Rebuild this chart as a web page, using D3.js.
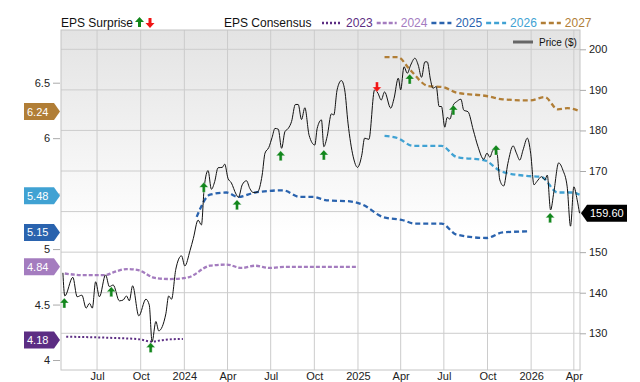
<!DOCTYPE html>
<html>
<head>
<meta charset="utf-8">
<script src="https://cdn.jsdelivr.net/npm/d3@7"></script>
<style>
  body { margin: 0; background: #fff; }
  svg { display: block; font-family: "Liberation Sans", Arial, sans-serif; }
</style>
</head>
<body>
<div id="chart"></div>
<script>
// Price ($)
const priceData = [
  ["2023-04-20",144.9],["2023-04-24",139.2],["2023-05-11",143.8],["2023-05-20",139.0],["2023-05-30",139.4],
  ["2023-06-08",136.2],["2023-06-15",137.4],["2023-06-21",136.2],["2023-06-28",142.7],["2023-07-06",139.0],
  ["2023-07-19",144.4],["2023-07-27",141.5],["2023-08-04",141.9],["2023-08-17",138.0],["2023-08-25",138.2],
  ["2023-09-01",139.2],["2023-09-07",138.0],["2023-09-14",141.7],["2023-09-27",134.3],["2023-10-12",138.4],
  ["2023-10-19",137.0],["2023-10-25",127.9],["2023-11-02",132.9],["2023-11-08",130.6],["2023-11-23",134.8],
  ["2023-11-29",139.2],["2023-12-05",138.4],["2023-12-14",145.8],["2023-12-26",149.1],["2024-01-02",146.6],
  ["2024-01-13",150.4],["2024-01-20",153.4],["2024-01-30",157.9],["2024-02-06",156.7],["2024-02-12",166.1],
  ["2024-02-20",170.1],["2024-02-27",165.5],["2024-03-05",167.4],["2024-03-12",170.8],["2024-03-21",170.9],
  ["2024-03-26",171.7],["2024-04-02",168.2],["2024-04-09",167.1],["2024-04-19",164.3],["2024-04-24",163.5],
  ["2024-05-02",166.6],["2024-05-11",167.6],["2024-05-18",165.7],["2024-05-25",164.7],["2024-06-03",164.8],
  ["2024-06-13",169.0],["2024-06-19",174.4],["2024-06-27",175.8],["2024-07-04",178.3],["2024-07-10",180.5],
  ["2024-07-17",180.3],["2024-07-24",175.6],["2024-07-31",179.7],["2024-08-07",180.5],["2024-08-14",182.2],
  ["2024-08-22",186.4],["2024-08-28",186.4],["2024-09-04",182.7],["2024-09-11",185.6],["2024-09-20",178.8],
  ["2024-10-02",176.4],["2024-10-07",180.5],["2024-10-16",182.6],["2024-10-21",176.0],["2024-10-28",178.5],
  ["2024-11-06",184.1],["2024-11-11",183.8],["2024-11-18",190.0],["2024-11-27",192.3],["2024-12-04",190.0],
  ["2024-12-11",181.8],["2024-12-22",173.5],["2024-12-31",170.9],["2025-01-09",173.9],["2025-01-15",178.1],
  ["2025-01-24",177.8],["2025-02-05",190.0],["2025-02-12",189.2],["2025-02-19",187.5],["2025-02-26",189.5],
  ["2025-03-11",185.5],["2025-03-18",187.9],["2025-03-27",192.9],["2025-04-01",190.0],["2025-04-08",195.7],
  ["2025-04-15",194.1],["2025-04-22",196.1],["2025-05-01",197.8],["2025-05-08",196.1],["2025-05-15",193.1],
  ["2025-05-22",196.9],["2025-05-27",196.9],["2025-06-03",192.4],["2025-06-08",190.4],["2025-06-15",190.8],
  ["2025-06-21",185.9],["2025-06-26",185.9],["2025-07-03",180.8],["2025-07-08",183.2],["2025-07-14",182.8],
  ["2025-07-21",186.3],["2025-07-28",187.1],["2025-08-06",187.7],["2025-08-12",185.0],["2025-08-21",184.6],
  ["2025-09-01",180.1],["2025-09-11",176.0],["2025-09-23",172.9],["2025-09-30",174.4],["2025-10-06",173.4],
  ["2025-10-13",175.2],["2025-10-20",175.2],["2025-10-27",167.8],["2025-11-04",166.3],["2025-11-13",171.9],
  ["2025-11-24",176.2],["2025-12-01",174.4],["2025-12-08",172.7],["2025-12-15",175.2],["2025-12-24",178.1],
  ["2025-12-31",174.4],["2026-01-07",166.6],["2026-01-13",167.4],["2026-01-23",168.6],["2026-01-30",167.8],
  ["2026-02-04",169.0],["2026-02-11",160.4],["2026-02-18",164.9],["2026-02-28",172.0],["2026-03-09",170.2],
  ["2026-03-18",166.1],["2026-03-25",156.4],["2026-04-01",166.1],["2026-04-08",162.9],["2026-04-13",159.6]
];

// EPS consensus per fiscal year
const eps2023 = [["2023-04-27",4.21],["2023-07-29",4.20],["2023-09-30",4.186],["2023-10-24",4.165],
  ["2023-11-10",4.175],["2023-12-01",4.186],["2023-12-29",4.19]];
const eps2024 = [["2023-04-24",4.78],["2023-06-02",4.765],["2023-07-18",4.765],["2023-08-04",4.79],
  ["2023-09-01",4.82],["2023-09-26",4.81],["2023-10-31",4.74],["2023-12-01",4.73],["2024-01-09",4.745],
  ["2024-02-24",4.85],["2024-03-30",4.86],["2024-05-01",4.83],["2024-05-29",4.85],["2024-06-29",4.83],
  ["2024-07-31",4.84],["2024-09-01",4.84],["2025-01-01",4.84]];
const eps2025 = [["2024-01-27",5.29],["2024-02-24",5.49],["2024-03-30",5.51],["2024-04-23",5.47],
  ["2024-05-29",5.51],["2024-07-27",5.53],["2024-09-01",5.47],["2024-09-28",5.47],["2024-10-27",5.44],
  ["2024-12-15",5.43],["2025-01-11",5.40],["2025-02-22",5.29],["2025-04-06",5.26],["2025-05-01",5.23],
  ["2025-06-26",5.23],["2025-07-28",5.13],["2025-09-29",5.10],["2025-11-02",5.15],["2025-12-29",5.16]];
const eps2026 = [["2025-02-26",6.02],["2025-03-26",6.00],["2025-04-27",5.93],["2025-06-26",5.93],
  ["2025-07-28",5.83],["2025-09-25",5.80],["2025-10-30",5.70],["2025-12-22",5.66],["2026-01-23",5.65],
  ["2026-02-26",5.51],["2026-03-30",5.51],["2026-04-13",5.49]];
const eps2027 = [["2025-02-26",6.73],["2025-03-26",6.73],["2025-04-20",6.62],["2025-05-29",6.47],
  ["2025-06-29",6.46],["2025-07-28",6.41],["2025-09-29",6.38],["2025-11-02",6.35],["2025-12-29",6.34],
  ["2026-01-30",6.37],["2026-02-26",6.26],["2026-03-19",6.27],["2026-04-09",6.25]];

const seriesNames = ["2023", "2024", "2025", "2026", "2027"];
const seriesColors = ["#5c2d83", "#a47cbf", "#2a63ae", "#40a2d3", "#b17e36"];
const lastValues = [4.18, 4.84, 5.15, 5.48, 6.24];

// EPS surprise markers: date, price level, up/down
const surprises = [
  ["2023-04-23",138.7,"up"],["2023-07-31",141.5,"up"],["2023-10-22",127.7,"up"],["2024-02-11",167.2,"up"],
  ["2024-04-21",162.9,"up"],["2024-07-22",175.0,"up"],["2024-10-21",175.2,"up"],["2025-02-10",189.5,"down"],
  ["2025-04-20",193.9,"up"],["2025-07-21",186.3,"up"],["2025-10-19",176.4,"up"],["2026-02-10",159.7,"up"]
];

const priceTicks = [130, 140, 150, 160, 170, 180, 190, 200];
const epsTicks = [4, 4.5, 5, 5.5, 6, 6.5];
const lastPrice = 159.60;

const width = 640, height = 382;
const plotL = 61, plotR = 580, plotT = 30, plotB = 370;
const parse = d3.timeParse("%Y-%m-%d");

const x = d3.scaleTime().domain([parse("2023-04-16"), parse("2026-04-14")]).range([plotL, plotR]);
const yPrice = d3.scaleLinear().domain([120.95, 204.76]).range([plotB, plotT]);
const yEps = d3.scaleLinear().domain([3.91, 6.975]).range([plotB, plotT]);

const svg = d3.select("#chart").append("svg").attr("width", width).attr("height", height);

// plot background
const grad = svg.append("defs").append("linearGradient")
  .attr("id", "bg").attr("x1", 0).attr("y1", 0).attr("x2", 0).attr("y2", 1);
grad.append("stop").attr("offset", "0%").attr("stop-color", "#e3e3e3");
grad.append("stop").attr("offset", "60%").attr("stop-color", "#ffffff");
grad.append("stop").attr("offset", "100%").attr("stop-color", "#ffffff");

svg.append("rect").attr("x", plotL).attr("y", plotT)
  .attr("width", plotR - plotL).attr("height", plotB - plotT).attr("fill", "url(#bg)");

// grid
const quarterTicks = d3.timeMonth.every(3).range(parse("2023-07-01"), parse("2026-04-02"));
svg.append("g").selectAll("line").data(quarterTicks).join("line")
  .attr("x1", d => x(d)).attr("x2", d => x(d)).attr("y1", plotT).attr("y2", plotB)
  .attr("stroke", "#cccccc");
svg.append("g").selectAll("line").data(priceTicks).join("line")
  .attr("x1", plotL).attr("x2", plotR).attr("y1", d => yPrice(d)).attr("y2", d => yPrice(d))
  .attr("stroke", "#cccccc");
svg.append("rect").attr("x", plotL).attr("y", plotT)
  .attr("width", plotR - plotL).attr("height", plotB - plotT)
  .attr("fill", "none").attr("stroke", "#c4c4c4");

// x axis
const fmt = d => d.getMonth() === 0 ? d3.timeFormat("%Y")(d) : d3.timeFormat("%b")(d);
const xAxis = svg.append("g").attr("transform", "translate(0," + plotB + ")")
  .call(d3.axisBottom(x).tickValues(quarterTicks).tickFormat(fmt).tickSize(0).tickPadding(2));
xAxis.select(".domain").remove();
xAxis.selectAll("text").attr("font-size", 11).attr("fill", "#222").attr("font-family", "Liberation Sans, Arial");

// right axis (price); the 160 label sits under the last-price tag
const rAxis = svg.append("g").attr("transform", "translate(" + plotR + ",0)")
  .call(d3.axisRight(yPrice).tickValues(priceTicks).tickFormat(d => d === 160 ? "" : d)
    .tickSize(6).tickPadding(3));
rAxis.select(".domain").remove();
rAxis.selectAll("line").attr("stroke", "#aaa");
rAxis.selectAll("text").attr("font-size", 11).attr("fill", "#222").attr("font-family", "Liberation Sans, Arial");

// left axis (EPS); 5.5 is covered by the 5.48 tag
const lAxis = svg.append("g").attr("transform", "translate(" + (plotL - 1) + ",0)")
  .call(d3.axisLeft(yEps).tickValues(epsTicks).tickFormat(d => d === 5.5 ? "" : d)
    .tickSize(7).tickPadding(3));
lAxis.select(".domain").remove();
lAxis.selectAll("line").attr("stroke", "#aaa");
lAxis.selectAll("text").attr("font-size", 11).attr("fill", "#222").attr("font-family", "Liberation Sans, Arial");

// consensus lines
const epsSeries = [eps2023, eps2024, eps2025, eps2026, eps2027];
const dashes = ["2,2", "4,2", "5,3", "5,3", "5,3"];
const epsLine = d3.line().x(d => x(parse(d[0]))).y(d => yEps(d[1])).curve(d3.curveMonotoneX);
epsSeries.forEach((s, i) => {
  svg.append("path").datum(s).attr("d", epsLine)
    .attr("fill", "none").attr("stroke", seriesColors[i])
    .attr("stroke-width", i === 0 ? 2 : 2.3).attr("stroke-dasharray", dashes[i]);
});

// price line
const priceLine = d3.line().x(d => x(parse(d[0]))).y(d => yPrice(d[1])).curve(d3.curveMonotoneX);
svg.append("path").datum(priceData).attr("d", priceLine)
  .attr("fill", "none").attr("stroke", "#111").attr("stroke-width", 1);

// surprise arrows
function arrowPath(cx, ty, up) {
  if (up) {
    return `M${cx},${ty} L${cx + 4.5},${ty + 5} L${cx + 1.5},${ty + 5} L${cx + 1.5},${ty + 10} L${cx - 1.5},${ty + 10} L${cx - 1.5},${ty + 5} L${cx - 4.5},${ty + 5} Z`;
  }
  return `M${cx},${ty} L${cx + 4.5},${ty - 5} L${cx + 1.5},${ty - 5} L${cx + 1.5},${ty - 10} L${cx - 1.5},${ty - 10} L${cx - 1.5},${ty - 5} L${cx - 4.5},${ty - 5} Z`;
}
svg.append("g").selectAll("path").data(surprises).join("path")
  .attr("d", d => arrowPath(x(parse(d[0])), yPrice(d[1]), d[2] === "up"))
  .attr("fill", d => d[2] === "up" ? "#12861c" : "#f01414")
  .attr("stroke", "rgba(255,255,255,0.6)").attr("stroke-width", 0.6);

// left value tags
svg.append("g").selectAll("g").data(lastValues).join("g").each(function(v, i) {
  const yy = yEps(v);
  const g = d3.select(this);
  g.append("path").attr("d", `M24,${yy - 8.5} H54 L60,${yy} L54,${yy + 8.5} H24 Z`).attr("fill", seriesColors[i]);
  g.append("text").attr("x", 27).attr("y", yy + 4).attr("font-size", 11).attr("fill", "#fff").text(v.toFixed(2));
});

// last price tag
const py = yPrice(lastPrice);
svg.append("path").attr("d", `M581,${py} L587,${py - 8.5} H627 V${py + 8.5} H587 Z`).attr("fill", "#000");
svg.append("text").attr("x", 590).attr("y", py + 4).attr("font-size", 11).attr("fill", "#fff").text(lastPrice.toFixed(2));

// legend
const lg = svg.append("g").attr("font-size", 12);
lg.append("text").attr("x", 61).attr("y", 27).attr("fill", "#111").text("EPS Surprise");
lg.append("path").attr("d", arrowPath(139.5, 17, true)).attr("fill", "#12861c");
lg.append("path").attr("d", arrowPath(150, 28, false)).attr("fill", "#f01414");
lg.append("text").attr("x", 224).attr("y", 27).attr("fill", "#111").text("EPS Consensus");
let lx = 322;
seriesNames.forEach((name, i) => {
  lg.append("line").attr("x1", lx).attr("x2", lx + 20).attr("y1", 23).attr("y2", 23)
    .attr("stroke", seriesColors[i]).attr("stroke-width", 2.3).attr("stroke-dasharray", dashes[i]);
  const t = lg.append("text").attr("x", lx + 24).attr("y", 27).attr("fill", seriesColors[i]).text(name);
  lx = lx + 24 + t.node().getComputedTextLength() + 4;
});

// price legend inside plot
svg.append("line").attr("x1", 513).attr("x2", 533).attr("y1", 42).attr("y2", 42)
  .attr("stroke", "#666").attr("stroke-width", 3);
svg.append("text").attr("x", 539).attr("y", 46).attr("font-size", 10).attr("fill", "#111").text("Price ($)");
</script>
</body>
</html>
